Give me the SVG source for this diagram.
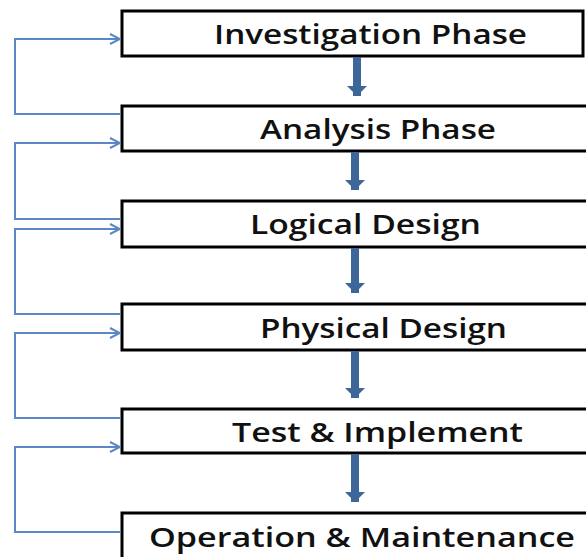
<svg xmlns="http://www.w3.org/2000/svg" width="586" height="557" viewBox="0 0 586 557">
<style>
.box{fill:#fff;stroke:#000;stroke-width:3}
.lbl{font-family:"Open Sans","Noto Sans","Liberation Sans",sans-serif;font-size:27px;font-weight:600;fill:#111}
.fb{fill:none;stroke:#5b87c2;stroke-width:2}
.down{stroke:#3d6699;stroke-width:8}
</style>
<defs>
<marker id="open" markerWidth="12" markerHeight="12" refX="11" refY="6" orient="auto" markerUnits="userSpaceOnUse">
<path d="M1,1 L11,6 L1,11" fill="none" stroke="#5b87c2" stroke-width="2"/>
</marker>
<marker id="thick" markerWidth="20" markerHeight="12" refX="10" refY="10" orient="0" markerUnits="userSpaceOnUse">
<path d="M0,0 L20,0 L10,10 Z" fill="#3d6699"/>
</marker>
</defs>
<rect width="586" height="557" fill="#fff"/>
<g id="n1"><rect class="box" x="122" y="11" width="461" height="45"/><text class="lbl" x="214" y="44" textLength="313" lengthAdjust="spacingAndGlyphs">Investigation Phase</text></g>
<g id="n2"><rect class="box" x="122" y="106" width="480" height="45"/><text class="lbl" x="260" y="139" textLength="236" lengthAdjust="spacingAndGlyphs">Analysis Phase</text></g>
<g id="n3"><rect class="box" x="122" y="201" width="480" height="46"/><text class="lbl" x="250" y="234" textLength="231" lengthAdjust="spacingAndGlyphs">Logical Design</text></g>
<g id="n4"><rect class="box" x="122" y="304" width="480" height="46"/><text class="lbl" x="260" y="338" textLength="247" lengthAdjust="spacingAndGlyphs">Physical Design</text></g>
<g id="n5"><rect class="box" x="122" y="409" width="480" height="44"/><text class="lbl" x="232" y="442" textLength="291" lengthAdjust="spacingAndGlyphs">Test &amp; Implement</text></g>
<g id="n6"><rect class="box" x="122" y="513" width="480" height="60"/><text class="lbl" x="149" y="547" textLength="426" lengthAdjust="spacingAndGlyphs">Operation &amp; Maintenance</text></g>
<g id="connectors">
<line class="down" x1="357" y1="57" x2="357" y2="96" marker-end="url(#thick)"/>
<line class="down" x1="355" y1="152" x2="355" y2="190" marker-end="url(#thick)"/>
<line class="down" x1="355" y1="248" x2="355" y2="293" marker-end="url(#thick)"/>
<line class="down" x1="355" y1="351" x2="355" y2="398" marker-end="url(#thick)"/>
<line class="down" x1="355" y1="454" x2="355" y2="502" marker-end="url(#thick)"/>
<polyline class="fb" points="121,114 15,114 15,39 120,39" marker-end="url(#open)"/>
<polyline class="fb" points="121,219 15,219 15,143 120,143" marker-end="url(#open)"/>
<polyline class="fb" points="121,314 15,314 15,229 120,229" marker-end="url(#open)"/>
<polyline class="fb" points="121,418 15,418 15,333 120,333" marker-end="url(#open)"/>
<polyline class="fb" points="121,532 15,532 15,447 120,447" marker-end="url(#open)"/>
</g>
</svg>
